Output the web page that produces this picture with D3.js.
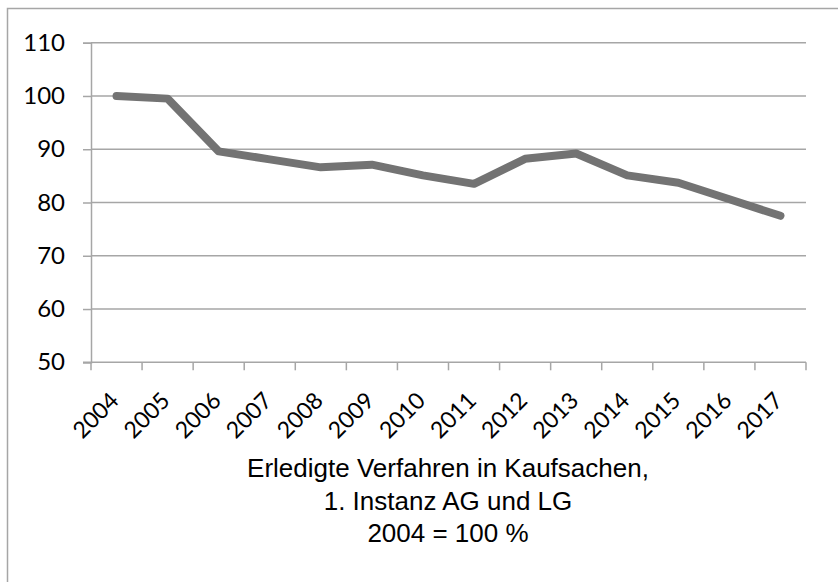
<!DOCTYPE html>
<html>
<head>
<meta charset="utf-8">
<script src="https://cdn.jsdelivr.net/npm/d3@7"></script>
<style>
  body { margin: 0; background: white; }
  .tick text { fill: #000; }
</style>
</head>
<body>
<div id="chart"></div>
<script>
// chart data
let years = ["2004","2005","2006","2007","2008","2009","2010","2011","2012","2013","2014","2015","2016","2017"];
let values = [100, 99.5, 89.6, 88.1, 86.6, 87.1, 85.1, 83.5, 88.2, 89.2, 85.1, 83.7, 80.6, 77.5];
let yTicks = [50, 60, 70, 80, 90, 100, 110];
let titleLines = ["Erledigte Verfahren in Kaufsachen,", "1. Instanz AG und LG", "2004 = 100 %"];

let W = 838, H = 582;
let padLeft = 91, padRight = 806, padTop = 42.7, padBottom = 362.3;
let gridCol = "#a6a6a6";

let svg = d3.select("#chart").append("svg")
    .attr("width", W)
    .attr("height", H);

// outer frame (only left and top edges inside the picture)
svg.append("rect")
    .attr("x", 7.5).attr("y", 8.5)
    .attr("width", W + 20).attr("height", H + 20)
    .attr("fill", "white")
    .attr("stroke", gridCol).attr("stroke-width", 1.5);

let x = d3.scaleBand().domain(years).range([padLeft, padRight]);
let y = d3.scaleLinear().domain([50, 110]).range([padBottom, padTop]);

// gridlines
svg.append("g").selectAll("line")
    .data(yTicks.slice(1))
    .enter().append("line")
      .attr("x1", padLeft).attr("x2", padRight)
      .attr("y1", function(d) { return y(d); })
      .attr("y2", function(d) { return y(d); })
      .attr("stroke", gridCol).attr("stroke-width", 1.5);

// y axis
let yAxis = svg.append("g")
    .attr("transform", "translate(" + padLeft + ",0)")
    .call(d3.axisLeft(y).tickValues(yTicks).tickSize(8).tickPadding(18));
yAxis.selectAll("path, line").attr("stroke", gridCol).attr("stroke-width", 1.5);
yAxis.selectAll("text")
    .attr("font-family", "Lato, 'Open Sans', sans-serif")
    .attr("font-size", 24);

// x axis: ticks on category boundaries
let bounds = years.map(function(d) { return x(d); }).concat([padRight]);
let xAxis = svg.append("g").attr("transform", "translate(0," + padBottom + ")");
xAxis.append("line")
    .attr("x1", padLeft - 8).attr("x2", padRight)
    .attr("stroke", gridCol).attr("stroke-width", 1.5);
xAxis.selectAll("line.tk")
    .data(bounds)
    .enter().append("line")
      .attr("class", "tk")
      .attr("x1", function(d) { return d; }).attr("x2", function(d) { return d; })
      .attr("y1", 0).attr("y2", 8)
      .attr("stroke", gridCol).attr("stroke-width", 1.5);
xAxis.selectAll("text")
    .data(years)
    .enter().append("text")
      .attr("transform", function(d) {
        return "translate(" + (x(d) + x.bandwidth() / 2 - 2) + ",34) rotate(-45)";
      })
      .attr("text-anchor", "end")
      .attr("dy", "0.35em")
      .attr("font-family", "Lato, 'Open Sans', sans-serif")
      .attr("font-size", 23)
      .text(function(d) { return d; });

// line
let line = d3.line()
    .x(function(d, i) { return x(years[i]) + x.bandwidth() / 2; })
    .y(function(d) { return y(d); });

svg.append("path")
    .datum(values)
    .attr("d", line)
    .attr("fill", "none")
    .attr("stroke", "#737373")
    .attr("stroke-width", 8)
    .attr("stroke-linecap", "round")
    .attr("stroke-linejoin", "round");

// axis title
svg.append("g").selectAll("text")
    .data(titleLines)
    .enter().append("text")
      .attr("x", 448)
      .attr("y", function(d, i) { return 477 + i * 32.5; })
      .attr("text-anchor", "middle")
      .attr("font-family", "'Liberation Sans', Arial, sans-serif")
      .attr("font-size", 26)
      .text(function(d) { return d; });
</script>
</body>
</html>
